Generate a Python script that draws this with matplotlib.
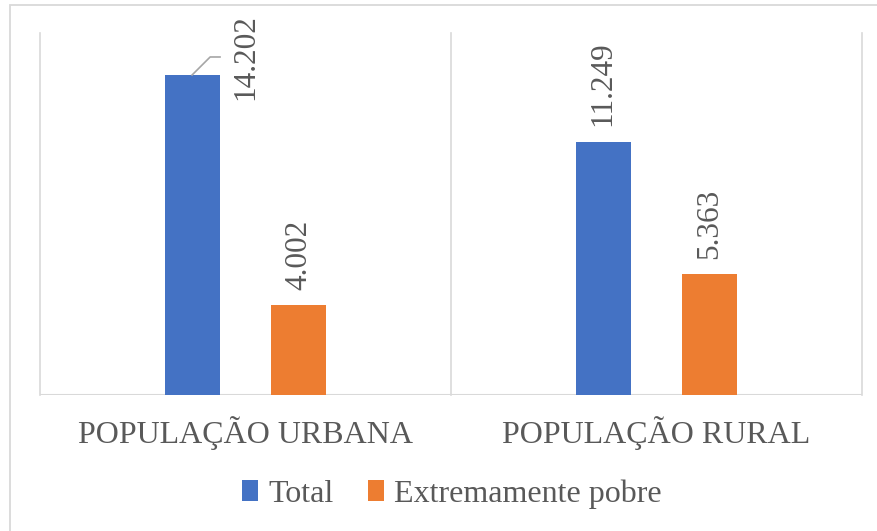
import matplotlib
matplotlib.use("Agg")
import matplotlib.pyplot as plt
from matplotlib.patches import Rectangle, Patch

categories = ["POPULAÇÃO URBANA", "POPULAÇÃO RURAL"]
series_names = ["Total", "Extremamente pobre"]
total = [14202, 11249]
extremamente_pobre = [4002, 5363]

colors = ["#4472C4", "#ED7D31"]
text_gray = "#595959"
line_gray = "#D9D9D9"
FONT = "Liberation Serif"
W, H = 878, 531

def fmt(v):
    return f"{v:,}".replace(",", ".")

fig = plt.figure(figsize=(W / 100, H / 100), dpi=100)
fig.patch.set_facecolor("white")

left, right, bottom, top = 40, 862, 395, 34.5
ax = fig.add_axes([left / W, 1 - bottom / H, (right - left) / W, (bottom - top) / H])
ax.set_xlim(-0.5, 1.5)
ax.set_ylim(0, 16000)
for s in ax.spines.values():
    s.set_visible(False)
ax.set_yticks([])

# vertical separators and baseline
for xv in [-0.5, 0.5, 1.5]:
    ax.plot([xv, xv], [0, 16000 * (bottom - 33) / (bottom - top)], color=line_gray,
            lw=1.2, clip_on=False, zorder=1)
ax.axhline(0, color=line_gray, lw=1.5, zorder=1)

offset = 0.130
width = 0.134
xs = list(range(len(categories)))
data = [total, extremamente_pobre]
for i, (vals, c) in enumerate(zip(data, colors)):
    pos = [x + (-offset if i == 0 else offset) for x in xs]
    ax.bar(pos, vals, width=width, color=c, zorder=2, label=series_names[i])
    for p, v in zip(pos, vals):
        if i == 0 and v == max(total):
            # label moved with leader line
            lx = p + offset
            ax.text(lx, v - 1110, fmt(v), rotation=90, ha="center", va="bottom",
                    fontsize=22.5, family=FONT, color=text_gray, clip_on=False)
            ax.plot([p, p + 0.044, p + 0.068], [v, v + 800, v + 800],
                    color="#A6A6A6", lw=1.2, clip_on=False, zorder=3)
        else:
            ax.annotate(fmt(v), (p, v), xytext=(0, 11), textcoords="offset points",
                        rotation=90, ha="center", va="bottom", fontsize=22.5,
                        family=FONT, color=text_gray)

ax.set_xticks(xs)
ax.set_xticklabels(categories, fontsize=23, family=FONT, color=text_gray)
ax.tick_params(axis="x", length=0, pad=15)

handles = [Patch(facecolor=c, edgecolor="none") for c in colors]
fig.legend(handles, series_names, loc="center", bbox_to_anchor=(452 / W, 1 - 494 / H),
           ncol=2, frameon=False, prop={"family": FONT, "size": 23},
           labelcolor=text_gray, handlelength=0.5, handleheight=0.6,
           handletextpad=0.3, columnspacing=1.1, borderpad=0)

# outer chart frame
fig.patches.append(Rectangle((10 / W, -0.05), 1.0, 1 - 5 / H + 0.05,
                             transform=fig.transFigure, fill=False,
                             edgecolor=line_gray, lw=1.3, clip_on=False))

fig.savefig("out.png", dpi=100, facecolor="white")
